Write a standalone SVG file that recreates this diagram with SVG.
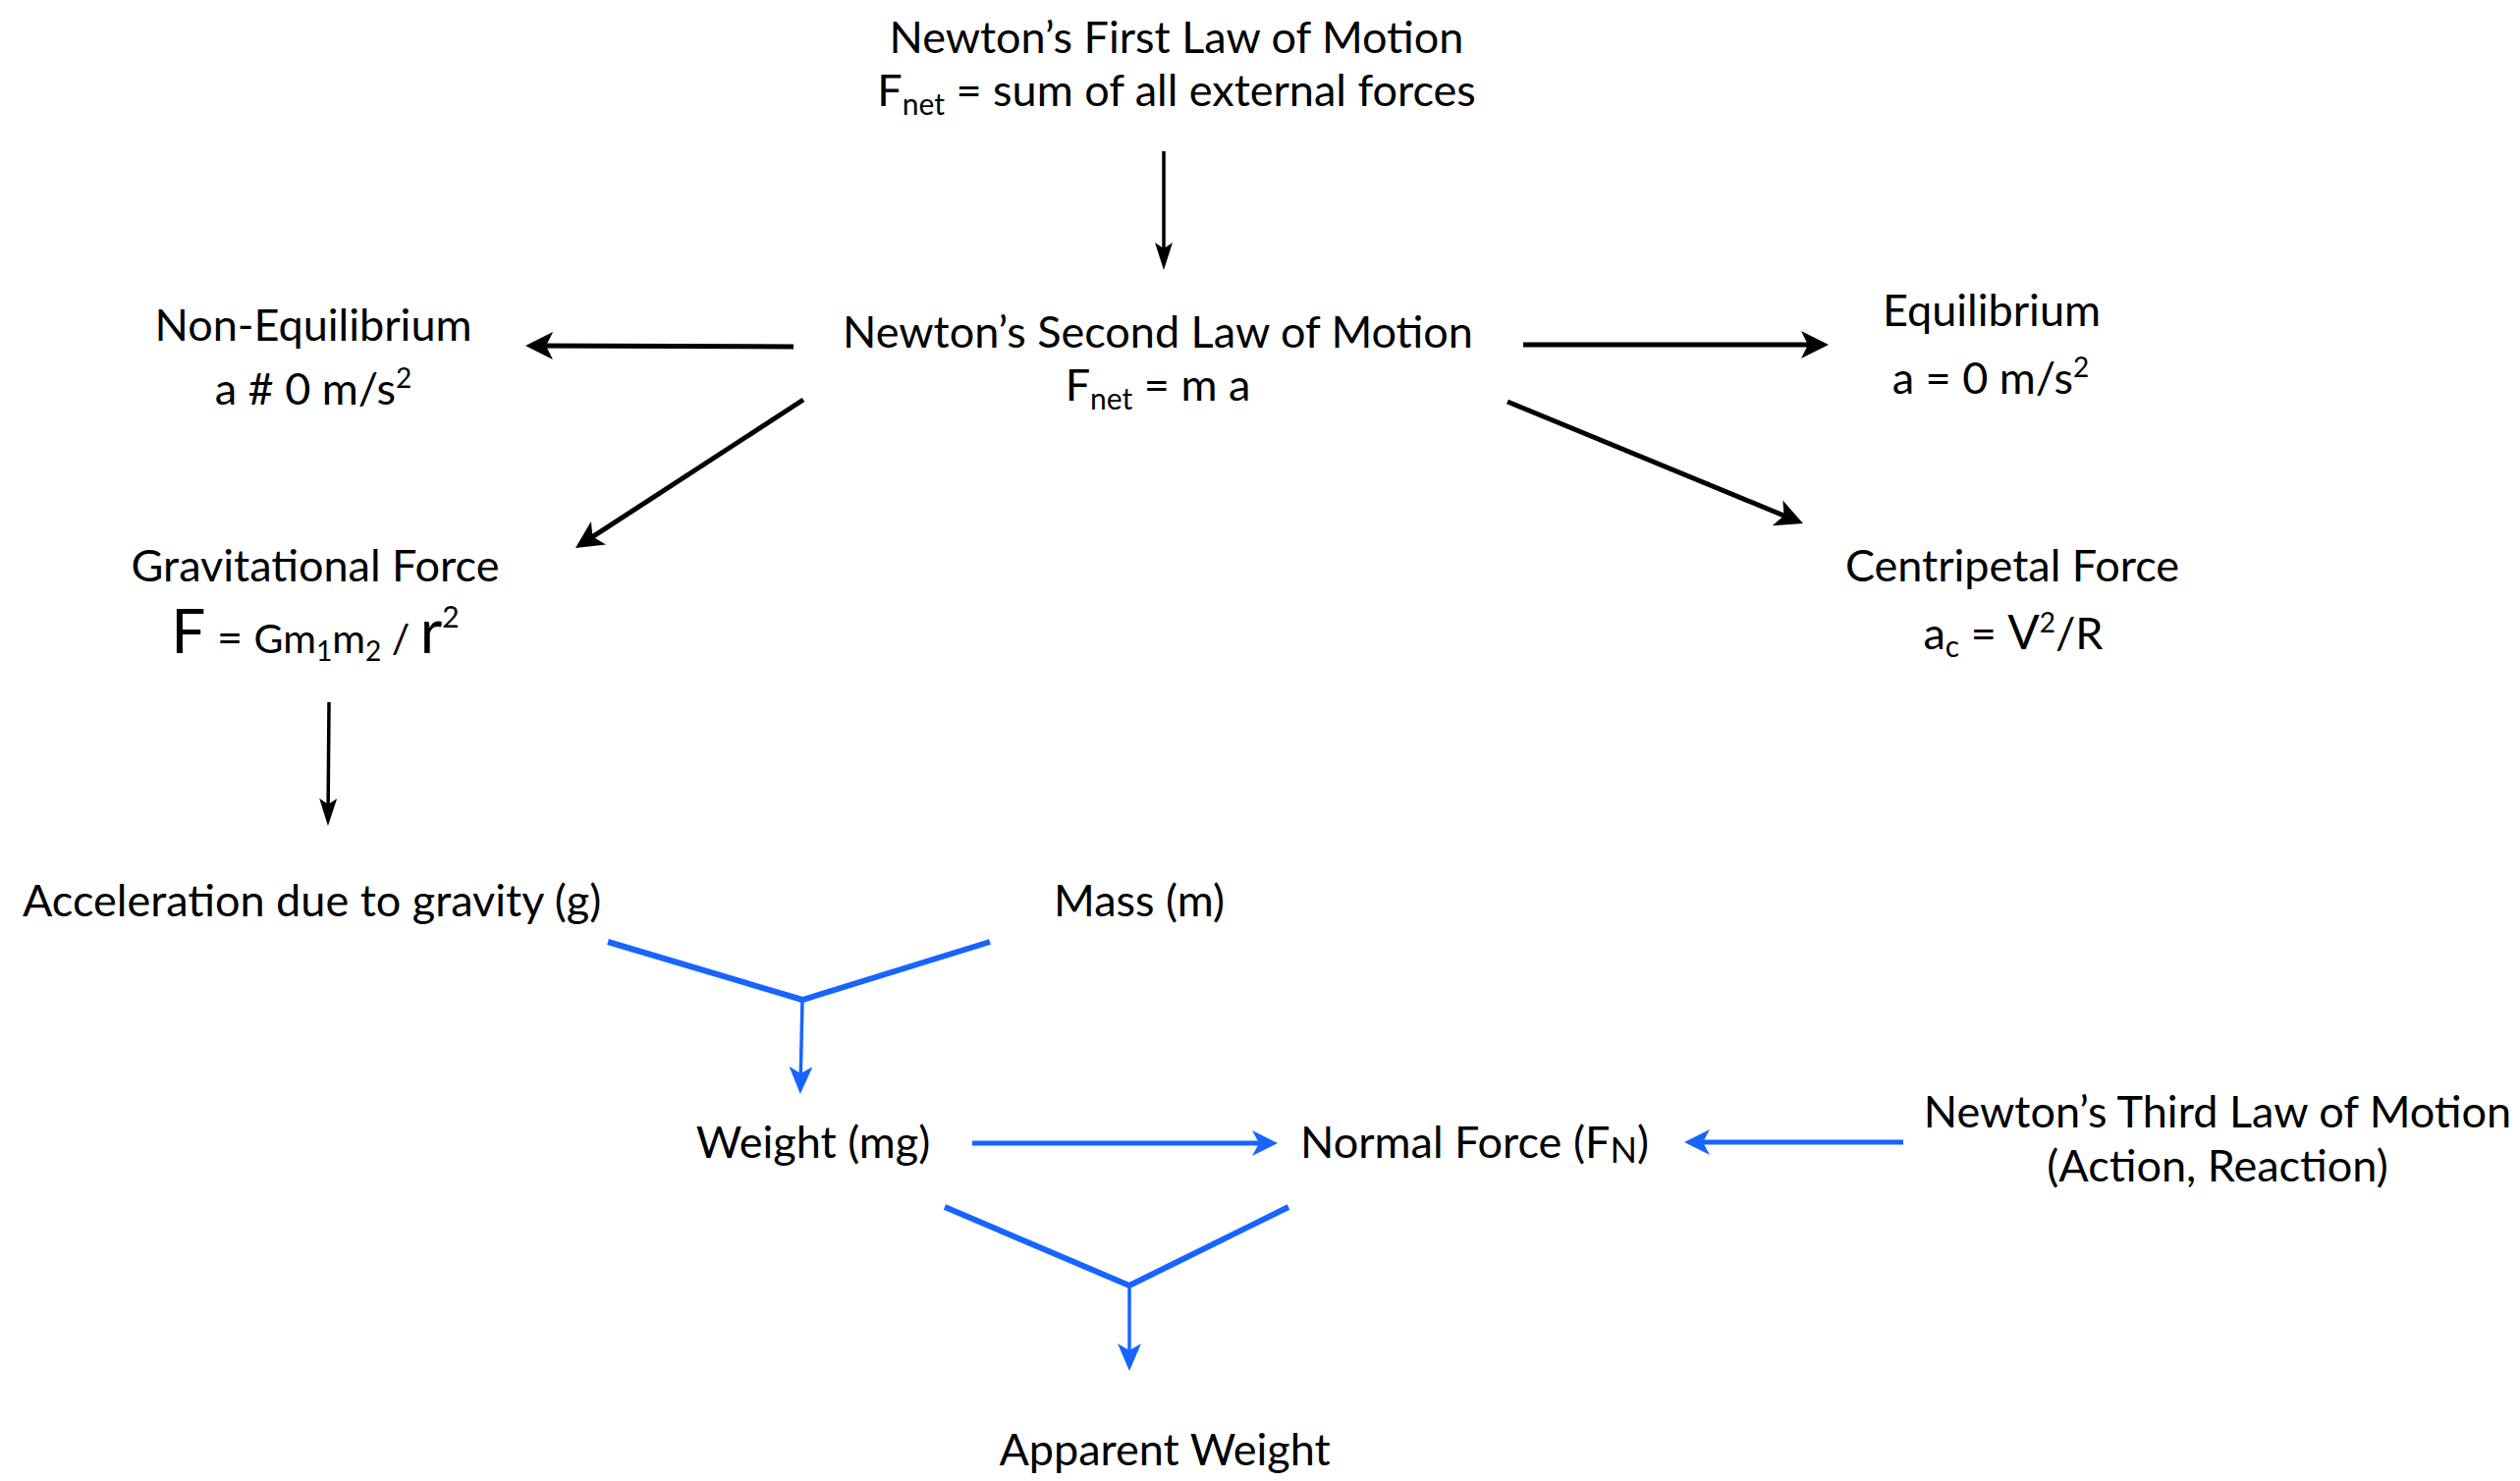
<svg xmlns="http://www.w3.org/2000/svg" width="2566" height="1508" viewBox="0 0 2566 1508">
<style>
  text { font-family: Lato, "Open Sans", "Liberation Sans", sans-serif; font-size: 45px; fill: #000; }
  .c { text-anchor: middle; }
  .sub { font-size: 30px; }
  .sup { font-size: 28px; }
  .blk { stroke: #000; fill: none; stroke-linecap: butt; }
  .blue { stroke: #1764ff; fill: none; stroke-linecap: butt; stroke-linejoin: miter; }
  .bold { stroke-width: 5; }
  .thin { stroke-width: 3.5; }
  .ythick { stroke-width: 6; }
</style>
<defs>
  <marker id="hBlack" markerUnits="userSpaceOnUse" viewBox="0 -14 28 28" refX="22" refY="0" markerWidth="28" markerHeight="28" orient="auto">
    <path d="M0,-14 L28,0 L0,14 L7,0 Z" fill="#000"/>
  </marker>
  <marker id="hBlackThin" markerUnits="userSpaceOnUse" viewBox="0 -9 28 18" refX="22" refY="0" markerWidth="28" markerHeight="18" orient="auto">
    <path d="M0,-9 L28,0 L0,9 L6,0 Z" fill="#000"/>
  </marker>
  <marker id="hBlue" markerUnits="userSpaceOnUse" viewBox="0 -13 26 26" refX="20" refY="0" markerWidth="26" markerHeight="26" orient="auto">
    <path d="M0,-13 L26,0 L0,13 L7,0 Z" fill="#1764ff"/>
  </marker>
  <marker id="hBlueThin" markerUnits="userSpaceOnUse" viewBox="0 -12 28 24" refX="22" refY="0" markerWidth="28" markerHeight="24" orient="auto">
    <path d="M0,-12 L28,0 L0,12 L7,0 Z" fill="#1764ff"/>
  </marker>
</defs>
<rect width="2566" height="1508" fill="#fff"/>

<g id="connectors">
  <line class="blk thin" x1="1185" y1="154" x2="1185" y2="269" marker-end="url(#hBlackThin)"/>
  <line class="blk bold" x1="808" y1="353" x2="541" y2="352" marker-end="url(#hBlack)"/>
  <line class="blk bold" x1="818" y1="407" x2="591" y2="554.7" marker-end="url(#hBlack)"/>
  <line class="blk bold" x1="1551" y1="351" x2="1856" y2="351" marker-end="url(#hBlack)"/>
  <line class="blk bold" x1="1535" y1="409" x2="1830.4" y2="530.7" marker-end="url(#hBlack)"/>
  <line class="blk thin" x1="335" y1="715" x2="334" y2="835" marker-end="url(#hBlackThin)"/>
  <polyline class="blue ythick" points="619,959 817,1018 1008,959"/>
  <line class="blue thin" x1="817" y1="1018" x2="815" y2="1108" marker-end="url(#hBlueThin)"/>
  <line class="blue bold" x1="990" y1="1164" x2="1295" y2="1164" marker-end="url(#hBlue)"/>
  <line class="blue bold" x1="1938" y1="1163" x2="1721" y2="1163" marker-end="url(#hBlue)"/>
  <polyline class="blue ythick" points="962,1229 1150,1309 1312,1229"/>
  <line class="blue thin" x1="1150" y1="1309" x2="1150" y2="1390" marker-end="url(#hBlueThin)"/>
</g>

<g id="first-law">
  <text class="c" x="1198" y="54">Newton’s First Law of Motion</text>
  <text class="c" x="1198" y="108">F<tspan class="sub" dy="9">net</tspan><tspan dy="-9"> = sum of all external forces</tspan></text>
</g>

<g id="second-law">
  <text class="c" x="1179" y="354">Newton’s Second Law of Motion</text>
  <text class="c" x="1179" y="408">F<tspan class="sub" dy="9">net</tspan><tspan dy="-9"> = m a</tspan></text>
</g>

<g id="non-equilibrium">
  <text class="c" x="319" y="347">Non-Equilibrium</text>
  <text class="c" x="319" y="412">a # 0 m/s<tspan class="sup" dy="-17">2</tspan></text>
</g>

<g id="equilibrium">
  <text class="c" x="2028" y="332">Equilibrium</text>
  <text class="c" x="2027" y="401">a = 0 m/s<tspan class="sup" dy="-17">2</tspan></text>
</g>

<g id="gravitational-force">
  <text class="c" x="321" y="665"><tspan font-size="62">F</tspan><tspan font-size="45"> = </tspan><tspan font-size="41">Gm</tspan><tspan font-size="28" dy="8">1</tspan><tspan font-size="41" dy="-8">m</tspan><tspan font-size="28" dy="8">2</tspan><tspan font-size="41" dy="-8"> / </tspan><tspan font-size="62">r</tspan><tspan font-size="30" dy="-26">2</tspan></text>
  <text class="c" x="321" y="592">Gravitational Force</text>
</g>

<g id="centripetal-force">
  <text class="c" x="2049" y="592">Centripetal Force</text>
  <text class="c" x="2050" y="661">a<tspan class="sub" dy="8">c</tspan><tspan dy="-8"> = </tspan><tspan font-size="48">V</tspan><tspan class="sup" dy="-17">2</tspan><tspan dy="17">/R</tspan></text>
</g>

<g id="acceleration-gravity">
  <text x="23" y="933">Acceleration due to gravity (g)</text>
</g>

<g id="mass">
  <text class="c" x="1160" y="933">Mass (m)</text>
</g>

<g id="weight">
  <text class="c" x="828" y="1179">Weight (mg)</text>
</g>

<g id="normal-force">
  <text x="1324" y="1179">Normal Force (F<tspan font-size="36" dy="5">N</tspan><tspan dy="-5">)</tspan></text>
</g>

<g id="third-law">
  <text class="c" x="2258" y="1148">Newton’s Third Law of Motion</text>
  <text class="c" x="2258" y="1203">(Action, Reaction)</text>
</g>

<g id="apparent-weight">
  <text class="c" x="1186" y="1492">Apparent Weight</text>
</g>
</svg>
